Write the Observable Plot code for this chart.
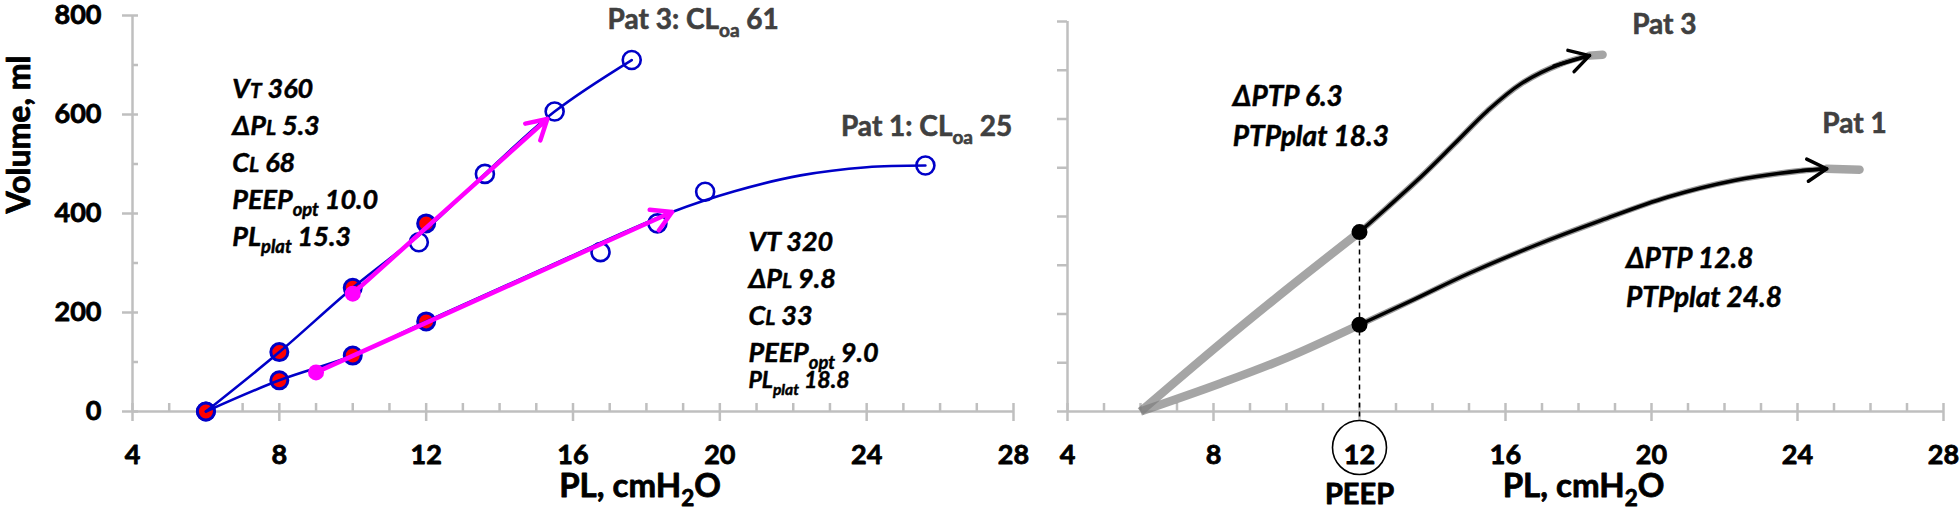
<!DOCTYPE html>
<html><head><meta charset="utf-8">
<script src="https://cdn.jsdelivr.net/npm/d3@7"></script>
<script src="https://cdn.jsdelivr.net/npm/@observablehq/plot@0.6"></script>
<style>
html,body{margin:0;padding:0;background:#fff;}
#wrap{position:relative;width:1960px;height:530px;overflow:hidden;background:#fff;}
#left,#right{position:absolute;top:0;}
#left{left:0;} #right{left:1030px;}
</style></head><body>
<div id="wrap"><div id="left"></div><div id="right"></div></div>
<script>
// ---------- tick values ----------
const xMajorTicks = [4, 8, 12, 16, 20, 24, 28];
const xAllTicks = [4,5,6,7,8,9,10,11,12,13,14,15,16,17,18,19,20,21,22,23,24,25,26,27,28];
const yMajorTicks = [0, 200, 400, 600, 800];
const yAllTicks = [0, 100, 200, 300, 400, 500, 600, 700, 800];

// ---------- left panel: PL (cmH2O) vs volume (ml) ----------
const pat3Measured = [[6, 0], [8, 120], [10, 250], [12, 380]];
const pat3Open = [[11.8, 342], [13.6, 480], [15.5, 606], [17.6, 710]];
const pat3Fit = [[6, 0], [8, 120], [10, 250], [12, 368], [13.6, 480], [15.5, 606], [17.6, 710]];
const pat3Opt = [[10, 238], [15.3, 591]];

const pat1Measured = [[6, 0], [8, 63], [10, 113], [12, 182]];
const pat1Open = [[16.75, 322], [18.3, 380], [19.6, 444], [25.6, 497]];
const pat1Fit = [[6, 0], [8, 63], [10, 113], [12, 182], [15, 282], [18.7, 403], [20.4, 445], [22.2, 477], [24, 493.5], [25.6, 497]];
const pat1Opt = [[9, 79], [18.7, 403]];

const pat3Tag = "Pat 3: CL_{oa} 61";
const pat1Tag = "Pat 1: CL_{oa} 25";
const pat3Notes = ["V~{T} 360", "ΔP~{L} 5.3", "C~{L} 68", "PEEP_{opt} 10.0", "PL_{plat} 15.3"];
const pat1Notes = ["VT 320", "ΔP~{L} 9.8", "C~{L} 33", "PEEP_{opt} 9.0"];
const pat1NoteLast = "PL_{plat} 18.8";

// ---------- right panel: transpulmonary pressure ----------
const r3Pre = [[6, 0], [8.2, 140], [10, 250], [12, 368]];
const r3Post = [[12, 368], [12.77, 419], [13.68, 481], [14.6, 549], [15.51, 617], [16.42, 672], [17.52, 713], [18.3, 730]];
const r3Tail = [[18.3, 730], [18.66, 732]];
const r1Pre = [[6, 0], [8.2, 58], [10, 110], [12, 178]];
const r1Post = [[12, 178], [13.5, 230], [14.96, 282], [16.79, 340], [18.62, 392], [20.45, 440], [22.27, 474], [24.1, 494], [24.8, 498]];
const r1Tail = [[24.8, 498], [25.7, 496]];
const r3Notes = ["ΔPTP 6.3", "PTPplat 18.3"];
const r1Notes = ["ΔPTP 12.8", "PTPplat 24.8"];
const peepValue = 12;

// ---------- styles ----------
const FONT = "Lato, 'Open Sans', 'DejaVu Sans', sans-serif";
const AXIS = "#bfbfbf";
const BLUE = "#0000c8";
const MAG = "#ff00ff";
const RED = "#ff0000";
const H = 530, MB = 119;
const heavy = (color, w) => ({fontWeight: "bold", fill: color, stroke: color, strokeWidth: w});

function axes(plotW, plotH, yTicksOut, yTickText) {
  const m = [
    Plot.ruleY([0], {stroke: AXIS, strokeWidth: 2.5}),
    Plot.ruleX([4], {stroke: AXIS, strokeWidth: 2.5}),
    Plot.tickX(xAllTicks, {x: d => d, stroke: AXIS, strokeWidth: 2.5, insetTop: plotH - 8}),
    Plot.axisX({ticks: xMajorTicks, tickSize: 10, fill: "none", stroke: AXIS, strokeWidth: 2.5, label: null}),
    Plot.text(xMajorTicks, {x: d => d, text: d => String(d), frameAnchor: "bottom", dy: 33, lineAnchor: "top", fontSize: 27, ...heavy("#000", 0.8)}),
    Plot.axisY({ticks: yTicksOut, tickSize: 10, fill: "none", stroke: AXIS, strokeWidth: 2.5, label: null})
  ];
  if (yTickText) {
    m.push(Plot.tickY(yAllTicks, {y: d => d, stroke: AXIS, strokeWidth: 2.5, insetRight: plotW - 6}));
    m.push(Plot.text(yMajorTicks, {y: d => d, text: d => String(d), frameAnchor: "left", dx: -31, textAnchor: "end", fontSize: 27, ...heavy("#000", 0.8)}));
  }
  return m;
}

const noteStyle = {textAnchor: "start", lineAnchor: "top", fontSize: 27, fontStyle: "italic", ...heavy("#000", 0.5)};
const tagStyle = {textAnchor: "start", fontSize: 28, ...heavy("#404040", 0.6)};
const titleStyle = {fontSize: 33, ...heavy("#000", 0.8)};

// ---------- left plot ----------
const LW = 1030, LML = 132, LMR = 17, LMT = 15;
const left = Plot.plot({
  width: LW, height: H, marginLeft: LML, marginRight: LMR, marginTop: LMT, marginBottom: MB,
  x: {domain: [4, 28]}, y: {domain: [0, 800]},
  style: {fontFamily: FONT, background: "transparent", overflow: "visible"},
  marks: [
    ...axes(LW - LML - LMR, H - LMT - MB, yMajorTicks, true),
    Plot.dot([...pat3Measured, ...pat1Measured], {r: 8.5, fill: RED, stroke: BLUE, strokeWidth: 3}),
    Plot.line(pat3Fit, {curve: "catmull-rom", stroke: BLUE, strokeWidth: 2.6}),
    Plot.line(pat1Fit, {curve: "catmull-rom", stroke: BLUE, strokeWidth: 2.6}),
    Plot.dot([...pat3Open, ...pat1Open], {r: 9, fill: "none", stroke: BLUE, strokeWidth: 2.6}),
    Plot.arrow([pat3Opt, pat1Opt], {x1: d => d[0][0], y1: d => d[0][1], x2: d => d[1][0], y2: d => d[1][1], stroke: MAG, strokeWidth: 4.5, headLength: 7.5, headAngle: 60}),
    Plot.dot([pat3Opt[0], pat1Opt[0]], {r: 8, fill: MAG}),
    Plot.text(["Volume, ml"], {frameAnchor: "left", dx: -113, rotate: -90, ...titleStyle, fontSize: 32}),
    Plot.text(["PL, cmH_{2}O"], {frameAnchor: "bottom", dx: 67, dy: 85, ...titleStyle}),
    Plot.text([pat3Tag], {x: [16.94], y: [790], ...tagStyle}),
    Plot.text([pat1Tag], {x: [23.3], y: [574], ...tagStyle}),
    Plot.text([pat3Notes.join("\n")], {x: [6.72], y: [687], lineHeight: 1.37, ...noteStyle}),
    Plot.text([pat1Notes.join("\n")], {x: [20.78], y: [378], lineHeight: 1.37, ...noteStyle}),
    Plot.text([pat1NoteLast], {x: [20.78], y: [80], ...noteStyle, fontSize: 23})
  ]
});

// ---------- right plot ----------
const RW = 930, RML = 37, RMR = 17, RMT = 21;
const GREY = "#7f7f7f";
const arrowFrom = (pts) => {
  const a = pts[pts.length - 2], b = pts[pts.length - 1];
  return {x1: b[0] - 3 * (b[0] - a[0]), y1: b[1] - 3 * (b[1] - a[1]), x2: b[0], y2: b[1]};
};
const right = Plot.plot({
  width: RW, height: H, marginLeft: RML, marginRight: RMR, marginTop: RMT, marginBottom: MB,
  x: {domain: [4, 28]}, y: {domain: [0, 800]},
  style: {fontFamily: FONT, background: "transparent", overflow: "visible"},
  marks: [
    ...axes(RW - RML - RMR, H - RMT - MB, yAllTicks, false),
    Plot.ruleX([{pl: peepValue, vol: r3Pre[r3Pre.length - 1][1]}], {x: "pl", y1: "vol", y2: 0, insetBottom: -8, stroke: "#000", strokeWidth: 1.5, strokeDasharray: "5,4"}),
    Plot.line(r3Pre, {curve: "catmull-rom", stroke: GREY, strokeOpacity: 0.7, strokeWidth: 8.5, strokeLinecap: "butt"}),
    Plot.line(r1Pre, {curve: "catmull-rom", stroke: GREY, strokeOpacity: 0.7, strokeWidth: 8.5, strokeLinecap: "butt"}),
    Plot.line(r3Tail, {stroke: GREY, strokeOpacity: 0.7, strokeWidth: 8.5, strokeLinecap: "round"}),
    Plot.line(r1Tail, {stroke: GREY, strokeOpacity: 0.7, strokeWidth: 8.5, strokeLinecap: "round"}),
    Plot.line(r3Post, {curve: "catmull-rom", stroke: "#9a9a9a", strokeWidth: 6}),
    Plot.line(r1Post, {curve: "catmull-rom", stroke: "#9a9a9a", strokeWidth: 6}),
    Plot.line(r3Post, {curve: "catmull-rom", stroke: "#000", strokeWidth: 3.5}),
    Plot.line(r1Post, {curve: "catmull-rom", stroke: "#000", strokeWidth: 3.5}),
    Plot.arrow([arrowFrom(r3Post), arrowFrom(r1Post)], {x1: "x1", y1: "y1", x2: "x2", y2: "y2", stroke: "#000", strokeWidth: 3.5, headLength: 9.5, headAngle: 60, insetStart: 52}),
    Plot.dot([r3Pre[r3Pre.length - 1], r1Pre[r1Pre.length - 1]], {r: 8, fill: "#000"}),
    Plot.dot([peepValue], {x: d => d, frameAnchor: "bottom", dy: 36, r: 27, fill: "none", stroke: "#000", strokeWidth: 1.6}),
    Plot.text(["PEEP"], {x: [peepValue], frameAnchor: "bottom", dy: 92, ...titleStyle, fontSize: 29}),
    Plot.text(["PL, cmH_{2}O"], {frameAnchor: "bottom", dx: 78, dy: 85, ...titleStyle}),
    Plot.text(["Pat 3"], {x: [19.47], y: [792], ...tagStyle}),
    Plot.text(["Pat 1"], {x: [24.68], y: [589], ...tagStyle}),
    Plot.text([r3Notes.join("\n")], {x: [8.53], y: [683], lineHeight: 1.4, ...noteStyle, fontSize: 28}),
    Plot.text([r1Notes.join("\n")], {x: [19.3], y: [351], lineHeight: 1.4, ...noteStyle, fontSize: 28})
  ]
});

document.getElementById("left").appendChild(left);
document.getElementById("right").appendChild(right);

// ---------- rich text: _{sub}, ~{small caps} ----------
function richify(root) {
  const NS = "http://www.w3.org/2000/svg";
  const leaves = [...root.querySelectorAll("text, tspan")].filter(el => el.children.length === 0 && /[_~]\{/.test(el.textContent));
  for (const el of leaves) {
    const s = el.textContent;
    const fs = parseFloat(getComputedStyle(el).fontSize) || 16;
    el.textContent = "";
    const add = (txt, attrs) => {
      const t = document.createElementNS(NS, "tspan");
      for (const k in attrs) t.setAttribute(k, attrs[k]);
      t.textContent = txt;
      el.appendChild(t);
    };
    const re = /([_~])\{([^}]*)\}/g;
    let last = 0, m, shift = 0;
    while ((m = re.exec(s))) {
      if (m.index > last) { add(s.slice(last, m.index), shift ? {dy: -shift} : {}); shift = 0; }
      if (m[1] === "_") { const d = fs * 0.28; add(m[2], {dy: d, "font-size": fs * 0.68}); shift = d; }
      else add(m[2], {"font-size": fs * 0.78});
      last = re.lastIndex;
    }
    if (last < s.length) add(s.slice(last), shift ? {dy: -shift} : {});
  }
}
richify(document.getElementById("wrap"));
</script></body></html>
